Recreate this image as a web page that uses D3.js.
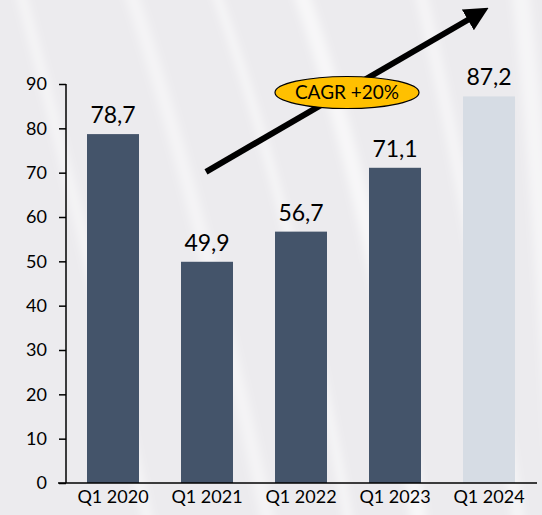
<!DOCTYPE html>
<html>
<head>
<meta charset="utf-8">
<script src="https://cdn.jsdelivr.net/npm/d3@7"></script>
<style>
  html, body { margin: 0; padding: 0; background: #ecebee; }
  svg { display: block; }
  text { font-family: Lato, "Open Sans", sans-serif; fill: #000; }
</style>
</head>
<body>
<div id="chart"></div>
<script>
// chart data
var quarters = ["Q1 2020", "Q1 2021", "Q1 2022", "Q1 2023", "Q1 2024"];
var values = [78.7, 49.9, 56.7, 71.1, 87.2];
var yTicks = [0, 10, 20, 30, 40, 50, 60, 70, 80, 90];
var cagrLabel = "CAGR +20%";

var width = 542, height = 515;
var margin = { top: 84, right: 6, bottom: 32, left: 66 };
var font = "Lato, 'Open Sans', sans-serif";

var svg = d3.select("#chart").append("svg")
   .attr("width", width)
   .attr("height", height);

// soft background with light streaks
var defs = svg.append("defs");
defs.append("filter").attr("id", "blur")
   .append("feGaussianBlur").attr("stdDeviation", 4);

svg.append("rect")
   .attr("width", width).attr("height", height)
   .attr("fill", "#ecebee");

var streaks = svg.append("g").attr("filter", "url(#blur)").attr("fill", "none").attr("stroke", "#fff");
[
   ["M20,-10 Q90,250 150,530", 10, 0.5],
   ["M130,-10 Q200,200 270,530", 14, 0.45],
   ["M215,-10 Q300,230 350,530", 8, 0.6],
   ["M300,-10 Q380,220 420,530", 16, 0.6],
   ["M420,-10 Q470,200 520,530", 12, 0.5],
   ["M520,-10 Q540,150 560,530", 18, 0.5]
].forEach(function(s) {
   streaks.append("path").attr("d", s[0]).attr("stroke-width", s[1]).attr("stroke-opacity", s[2]);
});

var x = d3.scaleBand()
   .domain(quarters)
   .range([margin.left, width - margin.right])
   .paddingInner(0.447)
   .paddingOuter(0.2235);

var y = d3.scaleLinear()
   .domain([0, 90])
   .range([height - margin.bottom, margin.top]);

// bars
svg.append("g").selectAll("rect")
   .data(values)
   .join("rect")
   .attr("x", function(d, i) { return x(quarters[i]); })
   .attr("y", function(d) { return y(d); })
   .attr("width", x.bandwidth())
   .attr("height", function(d) { return y(0) - y(d); })
   .attr("fill", function(d, i) { return i === values.length - 1 ? "#d6dce4" : "#44546a"; });

// value labels
svg.append("g").selectAll("text")
   .data(values)
   .join("text")
   .attr("x", function(d, i) { return x(quarters[i]) + x.bandwidth() / 2; })
   .attr("y", function(d) { return y(d) - 11; })
   .attr("text-anchor", "middle")
   .attr("font-size", 23)
   .text(function(d) { return d.toFixed(1).replace(".", ","); });

// y axis
var yAxis = svg.append("g")
   .attr("transform", "translate(" + margin.left + ",0)")
   .call(d3.axisLeft(y).tickValues(yTicks).tickSize(7).tickPadding(12));
yAxis.selectAll("text").attr("font-size", 18).style("font-family", font);
yAxis.select(".domain").attr("d", "M0," + y(0) + "V" + y(90)).attr("stroke-width", 1.5);
yAxis.selectAll(".tick line").attr("stroke-width", 1.5);

// x axis
var xAxis = svg.append("g")
   .attr("transform", "translate(0," + y(0) + ")")
   .call(d3.axisBottom(x).tickSize(0).tickPadding(7));
xAxis.selectAll("text").attr("font-size", 18).style("font-family", font);
xAxis.select(".domain").attr("d", "M" + (margin.left - 8) + ",0H" + (width - 5)).attr("stroke-width", 1.5);

// growth arrow
defs.append("marker")
   .attr("id", "head")
   .attr("viewBox", "0 0 10 10")
   .attr("refX", 2).attr("refY", 5)
   .attr("markerWidth", 4).attr("markerHeight", 4)
   .attr("orient", "auto")
   .append("path").attr("d", "M0,0L10,5L0,10Z").attr("fill", "#000");

var x0 = x(quarters[1]) + x.bandwidth() / 2 - 1, y0 = y(70.2);
var x1 = x(quarters[4]) + x.bandwidth() / 2 - 17, y1 = y(105);
svg.append("line")
   .attr("x1", x0).attr("y1", y0)
   .attr("x2", x1).attr("y2", y1)
   .attr("stroke", "#000")
   .attr("stroke-width", 6)
   .attr("marker-end", "url(#head)");

// CAGR badge
var bx = 347, by = 92.5;
svg.append("ellipse")
   .attr("cx", bx).attr("cy", by)
   .attr("rx", 72).attr("ry", 16)
   .attr("fill", "#ffc000")
   .attr("stroke", "#000")
   .attr("stroke-width", 1.2);
svg.append("text")
   .attr("x", bx).attr("y", by + 6.5)
   .attr("text-anchor", "middle")
   .attr("font-size", 19)
   .text(cagrLabel);
</script>
</body>
</html>
